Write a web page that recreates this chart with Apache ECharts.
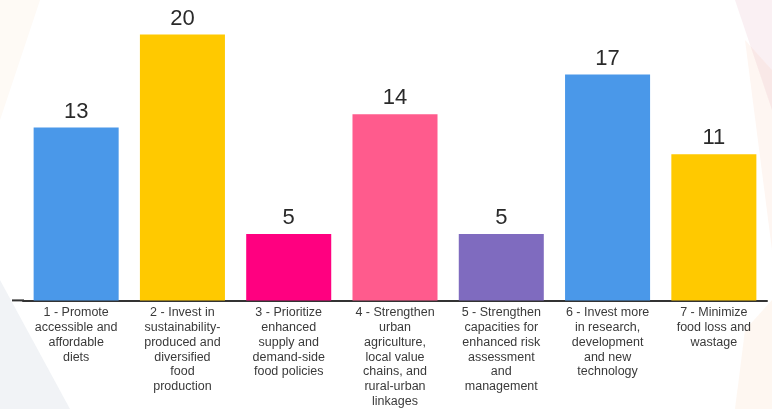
<!DOCTYPE html>
<html>
<head>
<meta charset="utf-8">
<script src="https://cdn.jsdelivr.net/npm/echarts@6/dist/echarts.min.js"></script>
<style>
html,body{margin:0;padding:0;background:#fff;}
#chart{width:772px;height:409px;}
</style>
</head>
<body>
<div id="chart"></div>
<script>
var categories = [
  "1 - Promote\naccessible and\naffordable\ndiets",
  "2 - Invest in\nsustainability-\nproduced and\ndiversified\nfood\nproduction",
  "3 - Prioritize\nenhanced\nsupply and\ndemand-side\nfood policies",
  "4 - Strengthen\nurban\nagriculture,\nlocal value\nchains, and\nrural-urban\nlinkages",
  "5 - Strengthen\ncapacities for\nenhanced risk\nassessment\nand\nmanagement",
  "6 - Invest more\nin research,\ndevelopment\nand new\ntechnology",
  "7 - Minimize\nfood loss and\nwastage"
];
var values = [13, 20, 5, 14, 5, 17, 11];
var barColors = ["#4A98E9", "#FFC900", "#FF0080", "#FF5B8D", "#7F6BBF", "#4A98E9", "#FFC900"];

var decorations = [
  {type:'polygon', silent:true, z:-10, shape:{points:[[735,0],[772,0],[772,110]]}, style:{fill:'rgba(220,150,170,0.14)'}},
  {type:'polygon', silent:true, z:-10, shape:{points:[[745,40],[772,70],[772,250]]}, style:{fill:'rgba(250,180,150,0.12)'}},
  {type:'polygon', silent:true, z:-10, shape:{points:[[745,330],[772,300],[772,409],[735,409]]}, style:{fill:'rgba(250,200,160,0.15)'}},
  {type:'polygon', silent:true, z:-10, shape:{points:[[0,280],[70,409],[0,409]]}, style:{fill:'rgba(190,200,215,0.22)'}},
  {type:'polygon', silent:true, z:-10, shape:{points:[[0,0],[40,0],[0,120]]}, style:{fill:'rgba(250,210,160,0.10)'}}
];

var chart = echarts.init(document.getElementById('chart'));
chart.setOption({
  animation: false,
  backgroundColor: '#ffffff',
  graphic: decorations,
  grid: {left: 23, right: 5, top: 8, bottom: 105},
  xAxis: {
    type: 'category',
    data: categories,
    axisLine: {show: true, lineStyle: {color: '#333', width: 2}},
    axisTick: {show: false},
    axisLabel: {
      interval: 0,
      margin: 5,
      color: '#3a3a3a',
      fontFamily: 'Liberation Sans, Arial, sans-serif',
      fontSize: 12.5,
      lineHeight: 14.8
    }
  },
  yAxis: {
    type: 'value',
    min: 0,
    max: 22,
    show: false,
    splitLine: {show: false}
  },
  series: [{
    type: 'bar',
    data: values,
    barCategoryGap: '20%',
    itemStyle: {
      color: function (p) { return barColors[p.dataIndex]; }
    },
    label: {
      show: true,
      position: 'top',
      distance: 5,
      color: '#2a2a2a',
      fontFamily: 'Liberation Sans, Arial, sans-serif',
      fontSize: 22
    }
  }]
});
// extend the baseline slightly to the left of the first category band, as in the reference
var base = chart.convertToPixel({yAxisIndex: 0}, 0);
chart.setOption({graphic: decorations.concat([
  {type:'line', silent:true, z:10, shape:{x1:12,y1:base,x2:24,y2:base}, style:{stroke:'#333',lineWidth:2}}
])});
</script>
</body>
</html>
